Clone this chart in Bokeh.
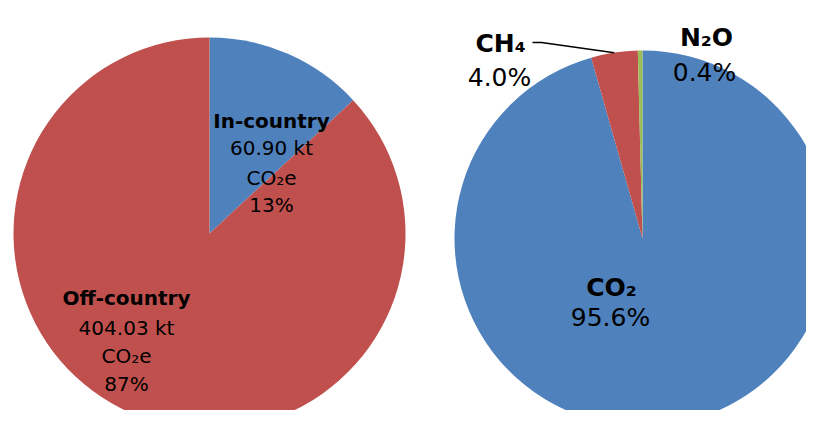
import math
from bokeh.plotting import figure
from bokeh.models import ColumnDataSource, Range1d
from bokeh.core.properties import value
from bokeh.embed import file_html
from bokeh.resources import INLINE

# ---------------- data ----------------
source_names = ["In-country", "Off-country"]
source_kt = [60.90, 404.03]          # kt CO2e
source_pct_labels = ["13%", "87%"]

gas_names = ["CO₂", "CH₄", "N₂O"]
gas_share = [95.6, 4.0, 0.4]          # percent
gas_pct_labels = ["95.6%", "4.0%", "0.4%"]

# ---------------- styling ----------------
BLUE, RED, GREEN = "#4F81BD", "#C0504D", "#9BBB59"
source_colors = [BLUE, RED]
gas_colors = [BLUE, RED, GREEN]
FONT = "DejaVu Sans"
IMG_H = 426
W, H = 806, 410

def Y(yi):  # image-pixel y (down) -> data y (up)
    return IMG_H - yi

def wedge_source(vals, cx, cy, r, colors):
    tot = float(sum(vals))
    c0, starts, ends = 0.0, [], []
    for v in vals:
        c1 = c0 + v / tot
        starts.append(math.pi / 2 - 2 * math.pi * c1)
        ends.append(math.pi / 2 - 2 * math.pi * c0)
        c0 = c1
    n = len(vals)
    return ColumnDataSource(dict(x=[cx] * n, y=[cy] * n, r=[r] * n,
                                 s=starts, e=ends, c=colors)), starts, ends

p = figure(width=W, height=H, x_range=Range1d(0, W), y_range=Range1d(IMG_H - H, IMG_H),
           output_backend="svg", toolbar_location=None, x_axis_type=None,
           y_axis_type=None, min_border=0, outline_line_color=None,
           background_fill_color="white", border_fill_color="white")
p.grid.visible = False

# left pie
LCX, LCY, LR = 209, Y(233), 196
src_l, _, _ = wedge_source(source_kt, LCX, LCY, LR, source_colors)
p.wedge(x="x", y="y", radius="r", start_angle="s", end_angle="e",
        fill_color="c", line_color=None, source=src_l)

# right pie
RCX, RCY, RR = 642, Y(238), 188
src_r, rs, re_ = wedge_source(gas_share, RCX, RCY, RR, gas_colors)
p.wedge(x="x", y="y", radius="r", start_angle="s", end_angle="e",
        fill_color="c", line_color=None, source=src_r)

def label(x, yi, txt, size, bold=False):
    p.text(x=[x], y=[Y(yi)], text=[txt], text_font=value(FONT),
           text_font_size=f"{size}px", text_font_style="bold" if bold else "normal",
           text_color="#000000", text_align="center", text_baseline="alphabetic")

# left pie labels
LS = 20
label(271, 120, source_names[0], LS, True)
label(271, 147, f"{source_kt[0]:.2f} kt", LS)
label(271, 177, "CO₂e", LS)
label(271, 204, source_pct_labels[0], LS)

label(126, 297, source_names[1], LS, True)
label(126, 327, f"{source_kt[1]:.2f} kt", LS)
label(126, 355, "CO₂e", LS)
label(126, 383, source_pct_labels[1], LS)

# right pie labels
RS = 25
label(611, 287, gas_names[0], RS, True)
label(610, 317, gas_pct_labels[0], RS)
label(500, 43, gas_names[1], RS, True)
label(499, 77, gas_pct_labels[1], RS)
label(706, 37, gas_names[2], RS, True)
label(704, 72, gas_pct_labels[2], RS)

# leader line for CH4 -> its slice edge midpoint
mid = (rs[1] + re_[1]) / 2
ex, ey = RCX + RR * math.cos(mid), RCY + RR * math.sin(mid)
p.line(x=[532, 541, ex], y=[Y(42), Y(42), ey], line_color="black", line_width=1.5)

open("out.html", "w").write(file_html(p, INLINE))
